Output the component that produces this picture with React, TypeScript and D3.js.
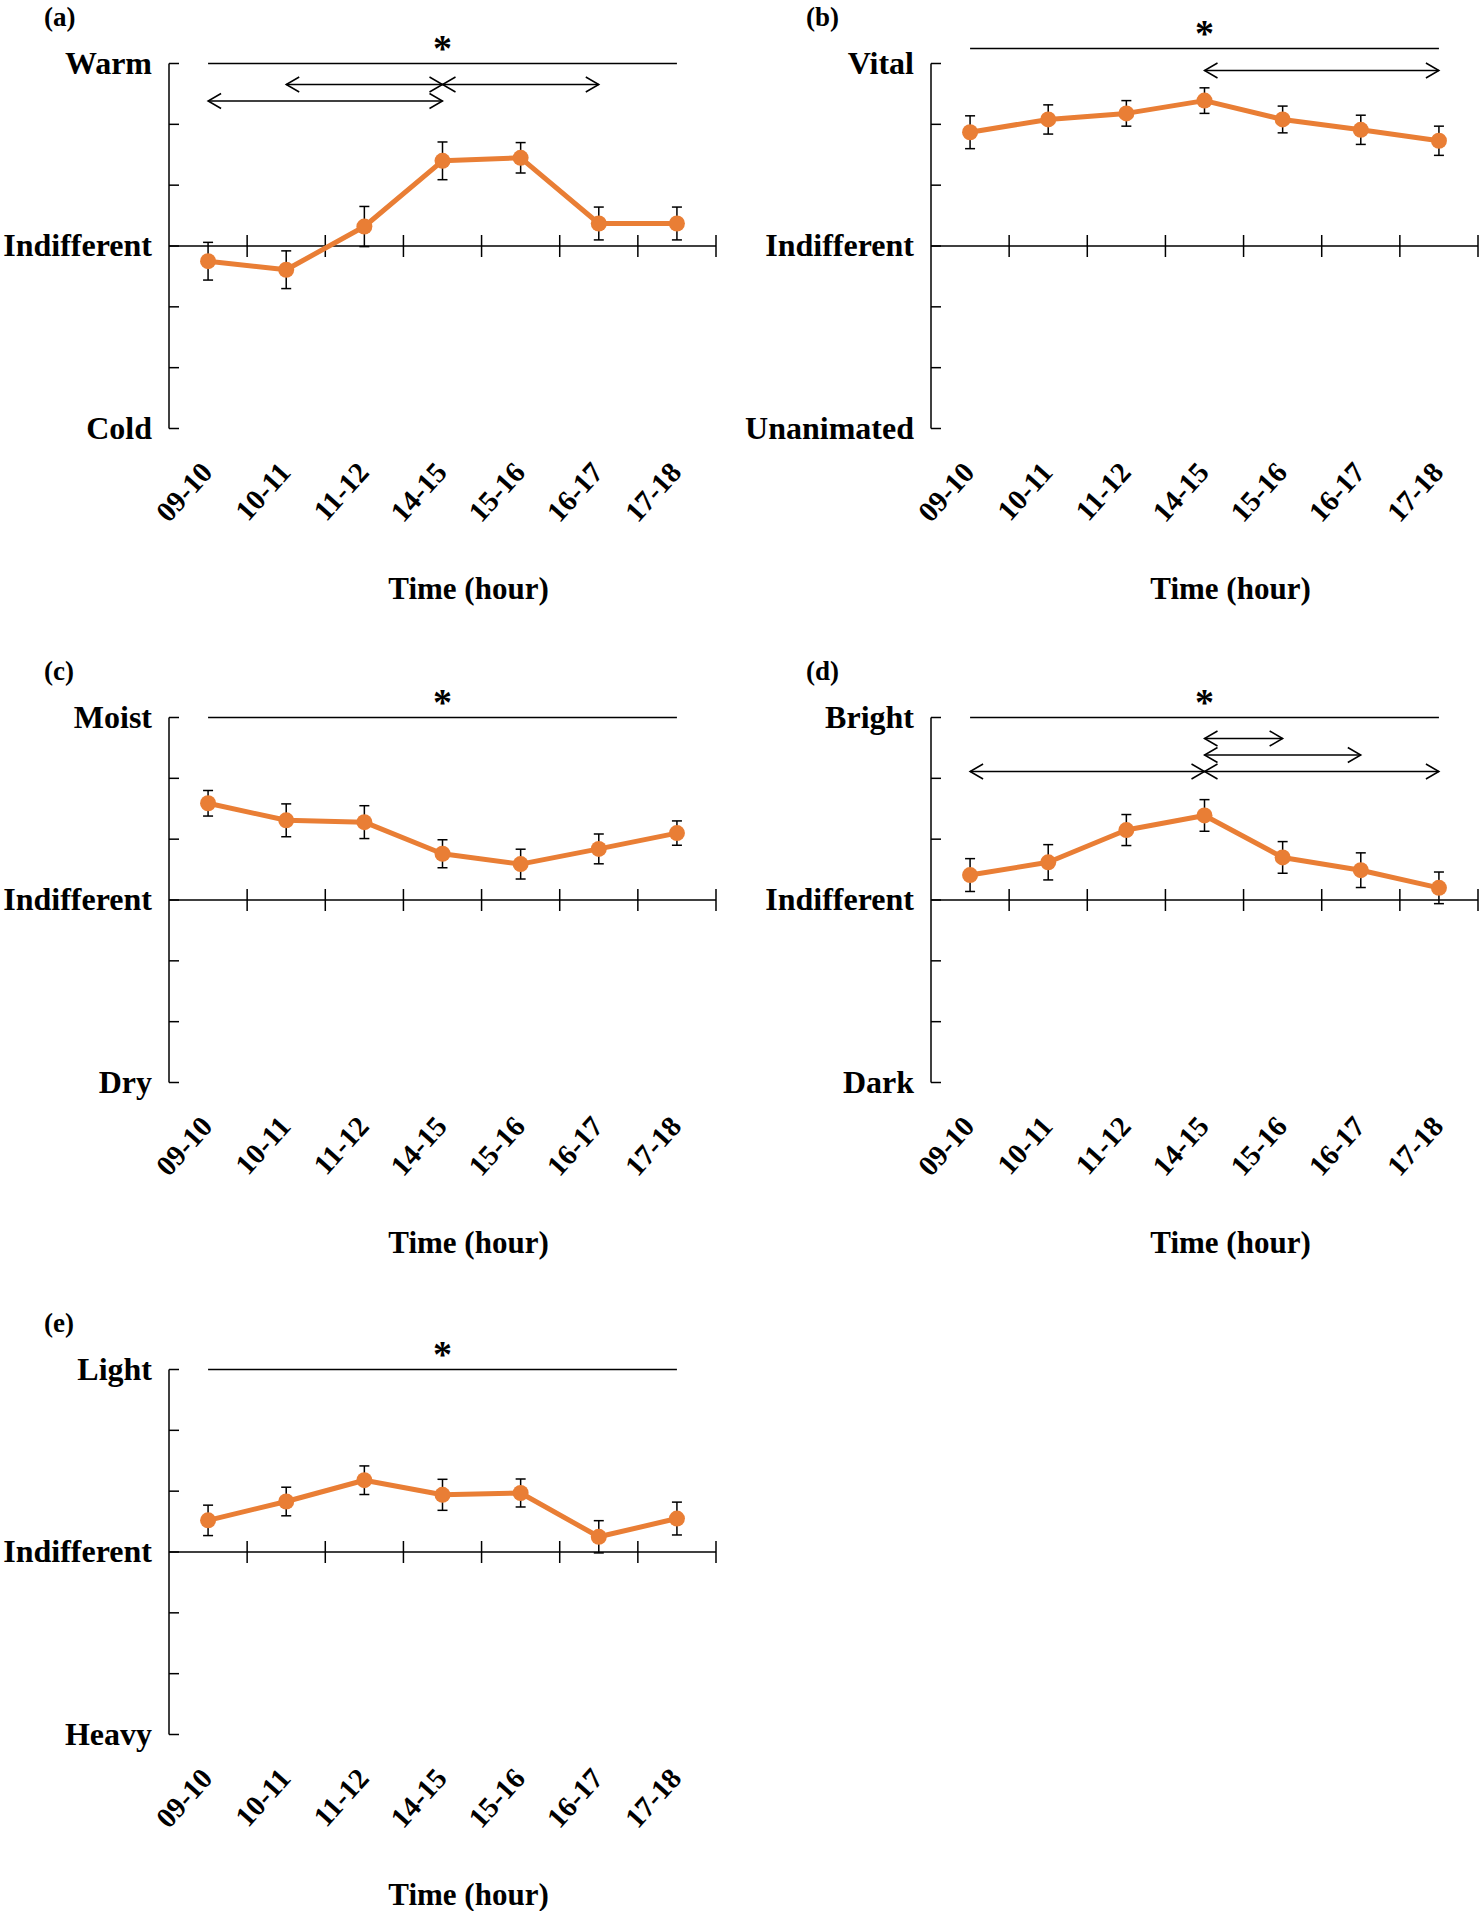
import React from "react";
import * as d3 from "d3";

const categories = ["09-10", "10-11", "11-12", "14-15", "15-16", "16-17", "17-18"];
const yTickValues = [-3, -2, -1, 0, 1, 2, 3];

const warmValues = [-0.25, -0.39, 0.32, 1.40, 1.45, 0.37, 0.37];
const warmErrors = [0.31, 0.31, 0.33, 0.31, 0.25, 0.27, 0.27];
const vitalValues = [1.87, 2.08, 2.18, 2.39, 2.08, 1.91, 1.73];
const vitalErrors = [0.27, 0.24, 0.21, 0.21, 0.22, 0.24, 0.24];
const moistValues = [1.59, 1.31, 1.28, 0.76, 0.59, 0.84, 1.10];
const moistErrors = [0.21, 0.27, 0.27, 0.23, 0.245, 0.245, 0.20];
const brightValues = [0.41, 0.62, 1.15, 1.39, 0.70, 0.49, 0.20];
const brightErrors = [0.27, 0.29, 0.255, 0.26, 0.26, 0.285, 0.26];
const lightValues = [0.52, 0.83, 1.18, 0.94, 0.97, 0.25, 0.55];
const lightErrors = [0.25, 0.235, 0.235, 0.255, 0.23, 0.265, 0.27];

// significance arrows: [fromIndex, toIndex, row]
const warmArrows = [[1, 3, 0], [3, 5, 0], [0, 3, 1]];
const vitalArrows = [[3, 6, -1]];
const moistArrows: number[][] = [];
const brightArrows = [[3, 4, 0], [3, 5, 1], [0, 3, 2], [3, 6, 2]];
const lightArrows: number[][] = [];

const panels = [
  { tag: "(a)", labels: ["Warm", "Indifferent", "Cold"], values: warmValues, errors: warmErrors, arrows: warmArrows, col: 0, row: 0, sigOffset: 0 },
  { tag: "(b)", labels: ["Vital", "Indifferent", "Unanimated"], values: vitalValues, errors: vitalErrors, arrows: vitalArrows, col: 1, row: 0, sigOffset: -15 },
  { tag: "(c)", labels: ["Moist", "Indifferent", "Dry"], values: moistValues, errors: moistErrors, arrows: moistArrows, col: 0, row: 1, sigOffset: 0 },
  { tag: "(d)", labels: ["Bright", "Indifferent", "Dark"], values: brightValues, errors: brightErrors, arrows: brightArrows, col: 1, row: 1, sigOffset: 0 },
  { tag: "(e)", labels: ["Light", "Indifferent", "Heavy"], values: lightValues, errors: lightErrors, arrows: lightArrows, col: 0, row: 2, sigOffset: 0 },
];

const colX = [169, 931];
const rowTop = [63.5, 717.5, 1369.5];
const PW = 547;
const PH = 365;
const ORANGE = "#E97E35";
const FONT = "'Liberation Serif', 'Times New Roman', serif";

function Arrow({ x1, x2, y }: { x1: number; x2: number; y: number }) {
  const hl = 13, hh = 7.5;
  return (
    <g stroke="#000" strokeWidth={1.5} fill="none">
      <line x1={x1} x2={x2} y1={y} y2={y} />
      <polyline points={`${x1 + hl},${y - hh} ${x1},${y} ${x1 + hl},${y + hh}`} />
      <polyline points={`${x2 - hl},${y - hh} ${x2},${y} ${x2 - hl},${y + hh}`} />
    </g>
  );
}

function Panel({ p }: { p: (typeof panels)[number] }) {
  const x0 = colX[p.col];
  const top = rowTop[p.row];
  const bottom = top + PH;
  const x = d3.scaleBand().domain(categories).range([x0, x0 + PW]);
  const y = d3.scaleLinear().domain([-3, 3]).range([bottom, top]);
  const cx = (i: number) => (x(categories[i]) as number) + x.bandwidth() / 2;
  const line = d3
    .line<number>()
    .x((_, i) => cx(i))
    .y((v) => y(v));
  const y0 = y(0);
  const sigY = top + p.sigOffset;
  return (
    <g fontFamily={FONT} fontWeight="bold">
      <text x={x0 - 125} y={top - 38} fontSize={27}>{p.tag}</text>
      {/* y axis */}
      <line x1={x0} x2={x0} y1={top} y2={bottom} stroke="#000" strokeWidth={1.5} />
      {yTickValues.map((t) => (
        <line key={t} x1={x0} x2={x0 + 10} y1={y(t)} y2={y(t)} stroke="#000" strokeWidth={1.5} />
      ))}
      {[3, 0, -3].map((t, i) => (
        <text key={t} x={x0 - 17} y={y(t) + 10} textAnchor="end" fontSize={32}>
          {p.labels[i]}
        </text>
      ))}
      {/* x axis */}
      <line x1={x0} x2={x0 + PW} y1={y0} y2={y0} stroke="#000" strokeWidth={1.5} />
      {categories.map((c) => {
        const bx = (x(c) as number) + x.bandwidth();
        return <line key={c} x1={bx} x2={bx} y1={y0 - 11} y2={y0 + 11} stroke="#000" strokeWidth={1.5} />;
      })}
      {categories.map((c, i) => (
        <text
          key={c}
          transform={`translate(${cx(i) + 6},${bottom + 45}) rotate(-48)`}
          textAnchor="end"
          fontSize={29}
        >
          {c}
        </text>
      ))}
      <text x={x0 + PW / 2 + 26} y={bottom + 170} textAnchor="middle" fontSize={31}>
        Time (hour)
      </text>
      {/* significance */}
      <line x1={cx(0)} x2={cx(6)} y1={sigY} y2={sigY} stroke="#000" strokeWidth={1.5} />
      <text x={cx(3)} y={sigY - 3} textAnchor="middle" fontSize={38}>*</text>
      {p.arrows.map((a, i) => (
        <Arrow key={i} x1={cx(a[0])} x2={cx(a[1])} y={a[2] < 0 ? top + 7 : top + 21 + a[2] * 16.5} />
      ))}
      {/* error bars */}
      {p.values.map((v, i) => (
        <g key={i} stroke="#000" strokeWidth={1.5}>
          <line x1={cx(i)} x2={cx(i)} y1={y(v - p.errors[i])} y2={y(v + p.errors[i])} />
          <line x1={cx(i) - 5} x2={cx(i) + 5} y1={y(v - p.errors[i])} y2={y(v - p.errors[i])} />
          <line x1={cx(i) - 5} x2={cx(i) + 5} y1={y(v + p.errors[i])} y2={y(v + p.errors[i])} />
        </g>
      ))}
      <path d={line(p.values) as string} fill="none" stroke={ORANGE} strokeWidth={5} strokeLinejoin="round" />
      {p.values.map((v, i) => (
        <circle key={i} cx={cx(i)} cy={y(v)} r={8} fill={ORANGE} />
      ))}
    </g>
  );
}

export default function App() {
  return (
    <svg
      width={1482}
      height={1911}
      style={{ position: "absolute", left: 0, top: 0, display: "block", background: "#fff" }}
    >
      <rect width={1482} height={1911} fill="#fff" />
      {panels.map((p) => (
        <Panel key={p.tag} p={p} />
      ))}
    </svg>
  );
}
